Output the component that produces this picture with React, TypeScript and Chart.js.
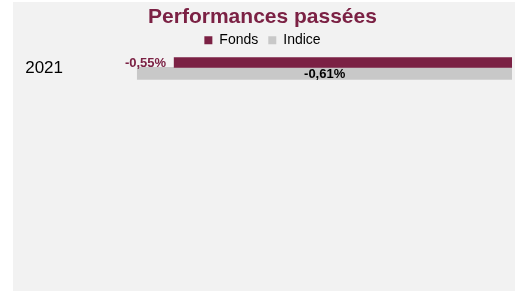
import React, { useEffect, useRef } from 'react';
import { Chart, registerables } from 'chart.js';

Chart.register(...registerables);

const years = ['2021', '', '', '', '', '', '', '', '', ''];
const fondsValues = [-0.55];
const indiceValues = [-0.61];
const seriesNames = ['Fonds', 'Indice'];
const chartTitle = 'Performances passées';
const xMin = -0.7;
const xMax = 0;

const FONT = "'Liberation Sans', Arial, sans-serif";
const MAROON = '#7b2144';
const GREY = '#c8c8c8';

const fmt = (v: number) => v.toFixed(2).replace('.', ',') + '%';

const labelPlugin = {
  id: 'barLabels',
  afterDatasetsDraw(chart: any) {
    const ctx = chart.ctx;
    ctx.save();
    ctx.font = `bold 13px ${FONT}`;
    ctx.textBaseline = 'middle';
    chart.data.datasets.forEach((ds: any, di: number) => {
      const meta = chart.getDatasetMeta(di);
      meta.data.forEach((bar: any, i: number) => {
        const v = ds.data[i];
        if (v == null) return;
        const { x, y, base } = bar.getProps(['x', 'y', 'base'], true);
        if (di === 0) {
          ctx.fillStyle = MAROON;
          ctx.textAlign = 'right';
          ctx.fillText(fmt(v), x - 8, y + 2);
        } else {
          ctx.fillStyle = '#000';
          ctx.textAlign = 'center';
          ctx.fillText(fmt(v), (x + base) / 2, y + 0.5);
        }
      });
    });
    ctx.restore();
  },
};

export default function App() {
  const ref = useRef<HTMLCanvasElement | null>(null);
  useEffect(() => {
    if (!ref.current) return;
    const chart = new Chart(ref.current, {
      type: 'bar',
      data: {
        labels: years,
        datasets: [
          { label: seriesNames[0], data: fondsValues, backgroundColor: MAROON, borderWidth: 0, barThickness: 12 },
          { label: seriesNames[1], data: indiceValues, backgroundColor: GREY, borderWidth: 0, barThickness: 12 },
        ],
      },
      options: {
        indexAxis: 'y',
        responsive: true,
        maintainAspectRatio: false,
        animation: false,
        layout: { padding: { left: 0, right: 3, top: 0, bottom: 0 } },
        plugins: {
          title: {
            display: true,
            text: chartTitle,
            color: MAROON,
            font: { family: FONT, size: 21, weight: 'bold' },
            padding: { top: 3, bottom: -7 },
          },
          legend: {
            display: true,
            position: 'top',
            labels: {
              boxWidth: 8,
              boxHeight: 8,
              padding: 10,
              color: '#000',
              font: { family: FONT, size: 14 },
            },
          },
          tooltip: { enabled: false },
        },
        scales: {
          x: { display: false, min: xMin, max: xMax },
          y: {
            grid: { display: false, drawTicks: false },
            border: { display: false },
            ticks: { color: '#000', font: { family: FONT, size: 17 }, padding: 19, autoSkip: false, labelOffset: 1 },
            afterFit: (scale: any) => {
              scale.width = 69;
            },
          },
        },
      },
      plugins: [labelPlugin],
    });
    return () => chart.destroy();
  }, []);
  return (
    <div style={{ position: 'absolute', left: 13, top: 2, width: 502, height: 289, background: '#f2f2f2' }}>
      <canvas ref={ref} />
    </div>
  );
}
